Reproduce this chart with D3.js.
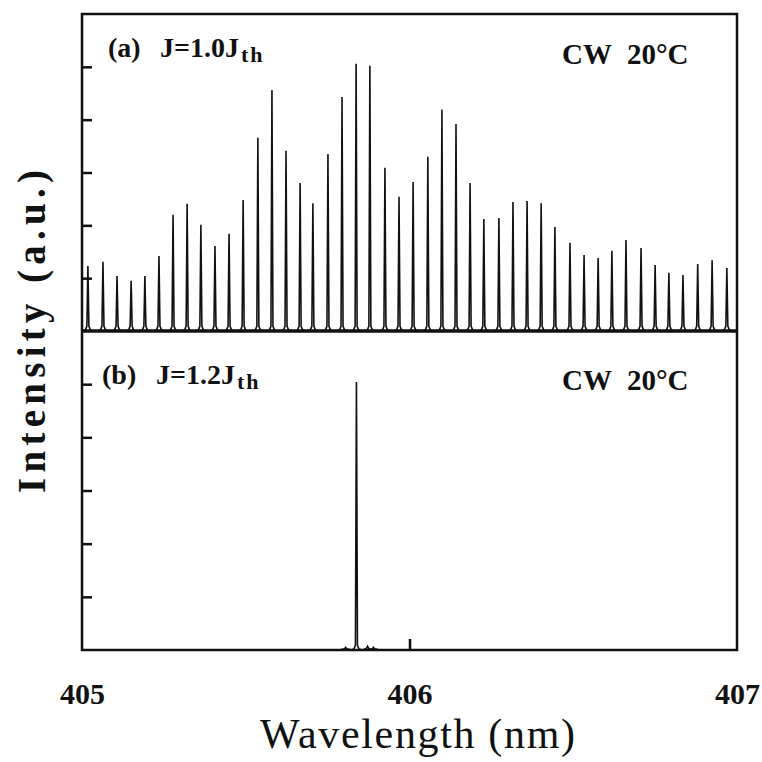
<!DOCTYPE html>
<html>
<head>
<meta charset="utf-8">
<script src="https://cdn.jsdelivr.net/npm/d3@7"></script>
<style>
  html, body { margin: 0; padding: 0; background: #fff; }
  svg text { font-family: "Liberation Serif", "Times New Roman", serif; fill: #111; }
</style>
</head>
<body>
<div id="chart"></div>
<script>
// Longitudinal mode positions (nm)
const modeWavelengths = [
  405.018, 405.064, 405.107, 405.150, 405.192, 405.235, 405.278, 405.321, 405.363, 405.406,
  405.449, 405.492, 405.537, 405.580, 405.623, 405.666, 405.705, 405.751, 405.794, 405.837,
  405.879, 405.925, 405.968, 406.011, 406.056, 406.099, 406.142, 406.185, 406.227, 406.273,
  406.316, 406.359, 406.402, 406.444, 406.490, 406.533, 406.576, 406.618, 406.661, 406.707,
  406.750, 406.792, 406.835, 406.880, 406.924, 406.969
];
// Panel (a) J = 1.0 Jth, intensity in tick units
const intensityA = [
  1.23, 1.31, 1.04, 0.95, 1.04, 1.42, 2.20, 2.41, 2.01, 1.61,
  1.84, 2.48, 3.66, 4.56, 3.41, 2.80, 2.42, 3.35, 4.43, 5.06,
  5.02, 3.09, 2.54, 2.82, 3.30, 4.19, 3.92, 2.80, 2.12, 2.14,
  2.44, 2.46, 2.42, 1.97, 1.67, 1.44, 1.38, 1.52, 1.72, 1.57,
  1.25, 1.10, 1.06, 1.27, 1.34, 1.19
];
// Panel (b) J = 1.2 Jth: single mode plus weak side modes
const wavelengthsB = [405.805, 405.838, 405.872, 405.890];
const intensityB = [0.05, 5.04, 0.07, 0.05];

const xTicks = [405, 406, 407];
const yTicks = [1, 2, 3, 4, 5];

const W = 762, H = 762;
const frame = { left: 82, right: 737, top: 14, mid: 331, bottom: 650 };

const svg = d3.select('#chart').append('svg')
    .attr('width', W).attr('height', H);

const x = d3.scaleLinear().domain([405, 407]).range([frame.left, frame.right]);
const yA = d3.scaleLinear().domain([0, 6]).range([frame.mid, frame.top]);
const yB = d3.scaleLinear().domain([0, 6]).range([frame.bottom, frame.mid]);

// peak profile: narrow spike with a little lorentzian-like foot
const peakLine = d3.line().curve(d3.curveLinear);
function peakPath(xc, yBase, yTop) {
    let h = yBase - yTop;
    let foot = Math.min(5, h * 0.5);
    return peakLine([
        [xc - 6, yBase], [xc - 2.5, yBase - 1], [xc - 1, yBase - foot],
        [xc, yTop],
        [xc + 1, yBase - foot], [xc + 2.5, yBase - 1], [xc + 6, yBase]
    ]);
}

function drawPanel(yScale, wl, vals, cls) {
    let g = svg.append('g').attr('class', cls);
    g.selectAll('path.peak')
        .data(wl.map((w, i) => ({ w: w, v: vals[i] })))
        .join('path')
        .attr('class', 'peak')
        .attr('fill', 'none')
        .attr('stroke', '#111')
        .attr('stroke-width', 1.6)
        .attr('d', d => peakPath(x(d.w), yScale(0), yScale(d.v)));

    // inward ticks on the left edge
    let yAxis = g.append('g')
        .attr('transform', `translate(${frame.left},0)`)
        .call(d3.axisRight(yScale).tickValues(yTicks).tickSize(10).tickFormat(''));
    yAxis.select('.domain').remove();
    yAxis.selectAll('line').attr('stroke', '#111').attr('stroke-width', 2.5);
}

drawPanel(yA, modeWavelengths, intensityA, 'panel-a');
drawPanel(yB, wavelengthsB, intensityB, 'panel-b');

// frame and divider
svg.append('rect')
    .attr('x', frame.left).attr('y', frame.top)
    .attr('width', frame.right - frame.left).attr('height', frame.bottom - frame.top)
    .attr('fill', 'none').attr('stroke', '#111').attr('stroke-width', 2.5);
svg.append('line')
    .attr('x1', frame.left).attr('x2', frame.right)
    .attr('y1', frame.mid).attr('y2', frame.mid)
    .attr('stroke', '#111').attr('stroke-width', 3.5);

// x axis: inward tick at 406, labels below
let xAxis = svg.append('g')
    .attr('transform', `translate(0,${frame.bottom})`)
    .call(d3.axisBottom(x).tickValues(xTicks).tickSize(0).tickFormat(d3.format('d')));
xAxis.select('.domain').remove();
xAxis.selectAll('.tick line')
    .attr('y2', d => (d === 406 ? -11 : 0))
    .attr('stroke', '#111').attr('stroke-width', 2.5);
xAxis.selectAll('.tick text')
    .attr('y', 54).attr('dy', 0)
    .attr('font-size', 30).attr('font-weight', 'bold')
    .style('font-family', '"Liberation Serif", serif');

// axis titles
svg.append('text')
    .attr('x', 260).attr('y', 748)
    .attr('font-size', 42)
    .attr('textLength', 315).attr('lengthAdjust', 'spacing')
    .text('Wavelength (nm)');

svg.append('text')
    .attr('transform', 'translate(45,493) rotate(-90)')
    .attr('font-size', 39).attr('font-weight', 'bold')
    .attr('textLength', 323).attr('lengthAdjust', 'spacing')
    .text('Intensity (a.u.)');

// panel annotations
function panelLabel(tag, xTag, xJ, base, jText) {
    let t = svg.append('text').attr('y', base)
        .attr('font-size', 28).attr('font-weight', 'bold');
    t.append('tspan').attr('x', xTag).text(tag);
    t.append('tspan').attr('x', xJ).text(jText);
    t.append('tspan').attr('dy', 5).attr('dx', 2)
        .attr('font-size', 22).attr('letter-spacing', 2).text('th');
}
panelLabel('(a)', 108, 160, 57, 'J=1.0J');
panelLabel('(b)', 102, 156, 384, 'J=1.2J');

function cwLabel(base) {
    let t = svg.append('text').attr('y', base)
        .attr('font-size', 29).attr('font-weight', 'bold');
    t.append('tspan').attr('x', 562).text('CW');
    t.append('tspan').attr('x', 627).text('20°C');
}
cwLabel(64);
cwLabel(390);
</script>
</body>
</html>
